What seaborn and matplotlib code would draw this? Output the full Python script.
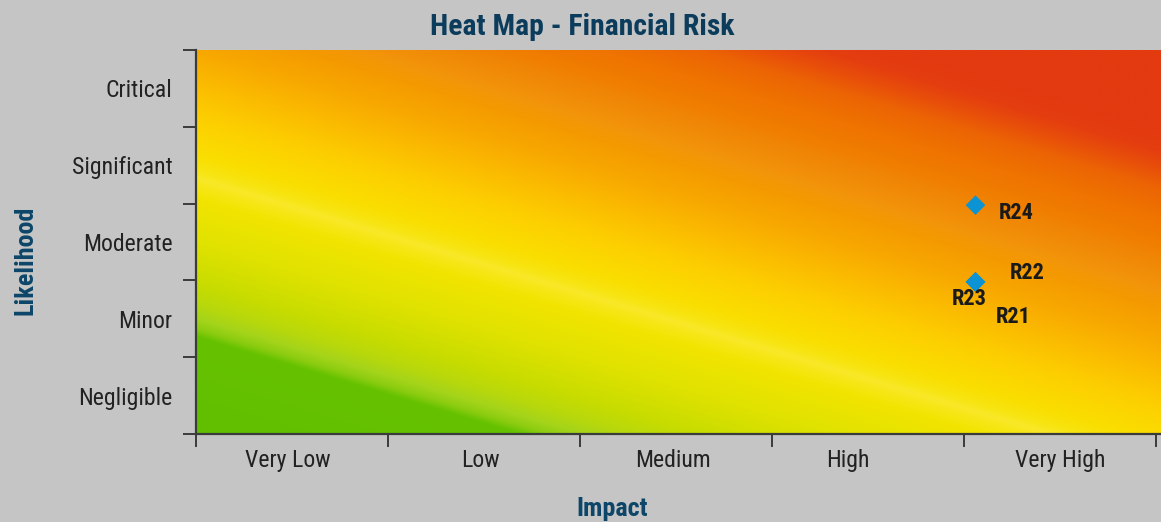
import numpy as np
import pandas as pd
import matplotlib
matplotlib.use("Agg")
import matplotlib.pyplot as plt
import matplotlib.colors as mcolors
import matplotlib.transforms as mtransforms
from matplotlib import font_manager as fm
import seaborn as sns

# ---- data ----
impact_labels = ["Very Low", "Low", "Medium", "High", "Very High"]
likelihood_labels = ["Negligible", "Minor", "Moderate", "Significant", "Critical"]
risk_names = ["R24", "R22", "R23", "R21"]
risk_impact = [4.06, 4.06, 4.06, 4.06]
risk_likelihood = [2.98, 1.98, 1.98, 1.98]
# label offsets (pixels) relative to the point
label_dx = [41, 52, -6, 38]
label_dy = [-8, 9, -17, -35]

sns.set_theme(style="white")

# ---- pick a narrow sans if one is installed ----
entries = fm.fontManager.ttflist
names = {e.name for e in entries}
family, stretch = None, "normal"
for cand in ["Liberation Sans Narrow", "Roboto Condensed", "Arial Narrow",
             "Nimbus Sans Narrow", "Open Sans Condensed", "PT Sans Narrow"]:
    if cand in names:
        family = cand
        break
if family is None:
    for e in entries:
        if str(e.stretch) in ("condensed", "semi-condensed", "extra-condensed") and \
                e.name in ("Liberation Sans", "DejaVu Sans", "Roboto", "Open Sans", "Noto Sans"):
            family, stretch = e.name, str(e.stretch)
            break
if family is None:
    family = "Liberation Sans" if "Liberation Sans" in names else "DejaVu Sans"
plt.rcParams["font.family"] = [family, "DejaVu Sans"]
plt.rcParams["font.stretch"] = stretch

BG = "#c4c5c4"
W, H = 1161, 522
fig = plt.figure(figsize=(W / 100, H / 100), dpi=100, facecolor=BG)
renderer = fig.canvas.get_renderer()


def fit_size(text, target_w, cap_px, weight="normal"):
    t = fig.text(0, 0, text, fontsize=10, fontweight=weight)
    w = t.get_window_extent(renderer).width
    t.remove()
    size_w = 10 * target_w / w
    size_h = cap_px
    return size_w ** 0.65 * size_h ** 0.35


tick_fs = fit_size("Significant", 96, 18.5)
title_fs = fit_size("Heat Map - Financial Risk", 299, 22, "bold")
axl_fs = fit_size("Likelihood", 106, 20, "bold")
r_fs = fit_size("R24", 34, 17, "bold")

ax = fig.add_axes([196 / W, 88 / H, (W - 196) / W, 384 / H])
ax.set_facecolor(BG)

xmax = (W - 196) / 192.0
ymax = 5.0

# ---- background gradient (styling) ----
xs = np.linspace(0, xmax, 800)
ys = np.linspace(0, ymax, 400)
X, Y = np.meshgrid(xs, ys)
px = 196 + 192 * X
py = 434 - 76.8 * Y
t = 0.3 * px - py
stops = [
    (-400, "#60be00"), (-278, "#66c200"), (-270, "#8ccc10"), (-260, "#a4d41a"),
    (-245, "#b8d80c"), (-224, "#c8dc00"), (-184, "#e0e200"), (-140, "#f2e400"),
    (-128, "#f6e614"), (-119, "#f9e828"), (-110, "#f7e410"), (-95, "#fade00"),
    (-60, "#fdd000"), (-25, "#fbbc00"), (5, "#f8aa00"), (40, "#f49a00"),
    (58, "#f3950a"), (75, "#f18c08"), (108, "#f07c00"), (130, "#ef7400"),
    (160, "#ec6404"), (180, "#e84e0a"), (197, "#e43e10"), (215, "#e33a10"),
    (400, "#e33a10"),
]
st = np.array([s[0] for s in stops], dtype=float)
rgb = np.array([mcolors.to_rgb(s[1]) for s in stops])
img = np.stack([np.interp(t, st, rgb[:, k]) for k in range(3)], axis=-1)
ax.imshow(img, extent=(0, xmax, 0, ymax), origin="lower", aspect="auto",
          interpolation="bilinear", zorder=0)

# ---- points ----
df = pd.DataFrame({"name": risk_names, "impact": risk_impact, "likelihood": risk_likelihood})
sns.scatterplot(data=df, x="impact", y="likelihood", marker="D", s=100,
                color="#0b93d3", edgecolor="none", linewidth=0, ax=ax, zorder=3)
for n, xv, yv, dx, dy in zip(df["name"], df["impact"], df["likelihood"], label_dx, label_dy):
    ax.annotate(n, (xv, yv), xytext=(dx, dy), textcoords="offset pixels",
                ha="center", va="center", fontsize=r_fs, fontweight="bold",
                color="#1a1a1a", zorder=4)

ax.set_xlim(0, xmax)
ax.set_ylim(0, ymax)
ax.set_xlabel("")
ax.set_ylabel("")

# major ticks at boundaries, labels at centres
ax.set_xticks(np.arange(0, 6))
ax.set_yticks(np.arange(0, 6))
ax.set_xticklabels([])
ax.set_yticklabels([])
ax.set_xticks(np.arange(len(impact_labels)) + 0.5, minor=True)
ax.set_yticks(np.arange(len(likelihood_labels)) + 0.5, minor=True)
ax.set_xticklabels(impact_labels, minor=True)
ax.set_yticklabels(likelihood_labels, minor=True)
ax.tick_params(axis="both", which="major", direction="out", length=9.5, width=1.4,
               color="#3a3c3a", bottom=True, left=True)
ax.tick_params(axis="both", which="minor", length=0, labelsize=tick_fs, labelcolor="#222222")
ax.tick_params(axis="x", which="minor", pad=11)
ax.tick_params(axis="y", which="minor", pad=17)

# small horizontal nudges of x labels as in the original
nudge = {"Very Low": -4, "Low": -4, "Medium": -3, "High": -20, "Very High": 0}
for lab in ax.get_xticklabels(minor=True):
    d = nudge.get(lab.get_text(), 0)
    if d:
        lab.set_transform(lab.get_transform() + mtransforms.Affine2D().translate(d, 0))

for side in ["top", "right"]:
    ax.spines[side].set_visible(False)
for side in ["left", "bottom"]:
    ax.spines[side].set_color("#3a3c3a")
    ax.spines[side].set_linewidth(1.6)
    ax.spines[side].set_zorder(5)

fig.text(582 / W, 1 - 27 / H, "Heat Map - Financial Risk", ha="center", va="center",
         fontsize=title_fs, fontweight="bold", color="#0c3c5c")
fig.text(25 / W, 1 - 260 / H, "Likelihood", ha="center", va="center", rotation=90,
         fontsize=axl_fs, fontweight="bold", color="#0d4669")
fig.text(612 / W, 1 - 509 / H, "Impact", ha="center", va="center",
         fontsize=axl_fs, fontweight="bold", color="#0d4669")

fig.savefig("out.png", dpi=100, facecolor=BG)
